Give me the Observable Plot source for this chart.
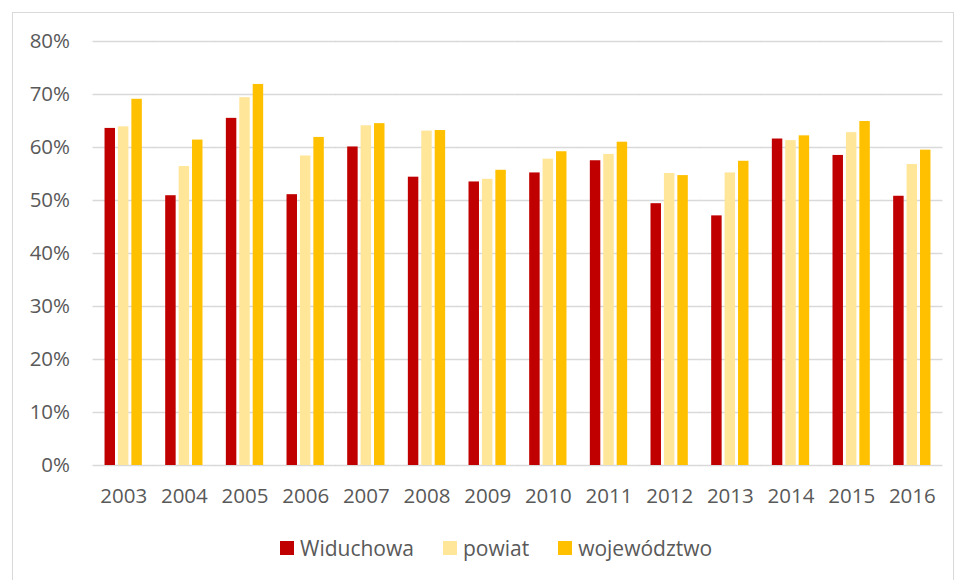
<!DOCTYPE html>
<html>
<head>
<meta charset="utf-8">
<script src="https://cdn.jsdelivr.net/npm/d3@7"></script>
<script src="https://cdn.jsdelivr.net/npm/@observablehq/plot@0.6"></script>
<style>
  html, body { margin: 0; padding: 0; background: #fff; }
  #frame { position: absolute; left: 12px; top: 12px; width: 940px; height: 600px; border: 1px solid #d9d9d9; font-family: "Open Sans", sans-serif; }
  #chart { position: absolute; left: 0; top: 0; }
  #legend { position: absolute; left: 267px; top: 523px; height: 24px; display: flex; align-items: center; font-size: 21px; color: #595959; }
  .item { display: flex; align-items: center; margin-right: 29px; }
  .sw { width: 14px; height: 14px; margin-right: 6px; }
</style>
</head>
<body>
<div id="frame">
  <div id="chart"></div>
  <div id="legend"></div>
</div>
<script>
const years = ["2003","2004","2005","2006","2007","2008","2009","2010","2011","2012","2013","2014","2015","2016"];
const widuchowa   = [63.6, 50.9, 65.5, 51.1, 60.1, 54.4, 53.5, 55.2, 57.5, 49.4, 47.1, 61.6, 58.5, 50.8];
const powiat      = [63.9, 56.4, 69.4, 58.4, 64.1, 63.1, 54.0, 57.8, 58.7, 55.1, 55.2, 61.3, 62.8, 56.8];
const wojewodztwo = [69.1, 61.4, 71.9, 61.9, 64.5, 63.2, 55.7, 59.2, 61.0, 54.7, 57.4, 62.2, 64.9, 59.5];
const seriesNames = ["Widuchowa", "powiat", "województwo"];
const seriesColors = ["#C00000", "#FFE699", "#FFC000"];
const yTicks = [0, 10, 20, 30, 40, 50, 60, 70, 80];

const seriesValues = [widuchowa, powiat, wojewodztwo];
const rows = years.flatMap((yr, i) => seriesNames.map((s, j) => ({year: yr, series: s, value: seriesValues[j][i]})));

const chart = Plot.plot({
  width: 940,
  height: 502,
  marginLeft: 80,
  marginRight: 11,
  marginTop: 28,
  marginBottom: 50,
  style: {fontFamily: "'Open Sans', sans-serif", fontSize: "20px", color: "#595959", overflow: "visible"},
  fx: {domain: years, paddingInner: 0.385, paddingOuter: 0.19, round: false, label: null, axis: null},
  x: {domain: seriesNames, paddingInner: 0.22, paddingOuter: 0, round: false, axis: null},
  y: {domain: [0, 80], axis: null},
  color: {domain: seriesNames, range: seriesColors},
  marks: [
    Plot.ruleY(yTicks, {y: d => d, stroke: "#d9d9d9", strokeWidth: 1.3, insetLeft: -12, insetRight: -12}),
    Plot.barY(rows, {fx: "year", x: "series", y: "value", fill: "series"}),
    Plot.axisY({anchor: "left", ticks: yTicks, tickSize: 0, tickPadding: 35, fontSize: 20.5, tickFormat: d => d + "%", label: null}),
    Plot.axisFx({anchor: "bottom", tickSize: 0, tickPadding: 23, fontSize: 20.5, label: null})
  ]
});
document.getElementById("chart").appendChild(chart);

const legend = document.getElementById("legend");
seriesNames.forEach((s, i) => {
  const item = document.createElement("div");
  item.className = "item";
  const sw = document.createElement("div");
  sw.className = "sw";
  sw.style.background = seriesColors[i];
  const lab = document.createElement("span");
  lab.textContent = s;
  item.appendChild(sw);
  item.appendChild(lab);
  legend.appendChild(item);
});
</script>
</body>
</html>
